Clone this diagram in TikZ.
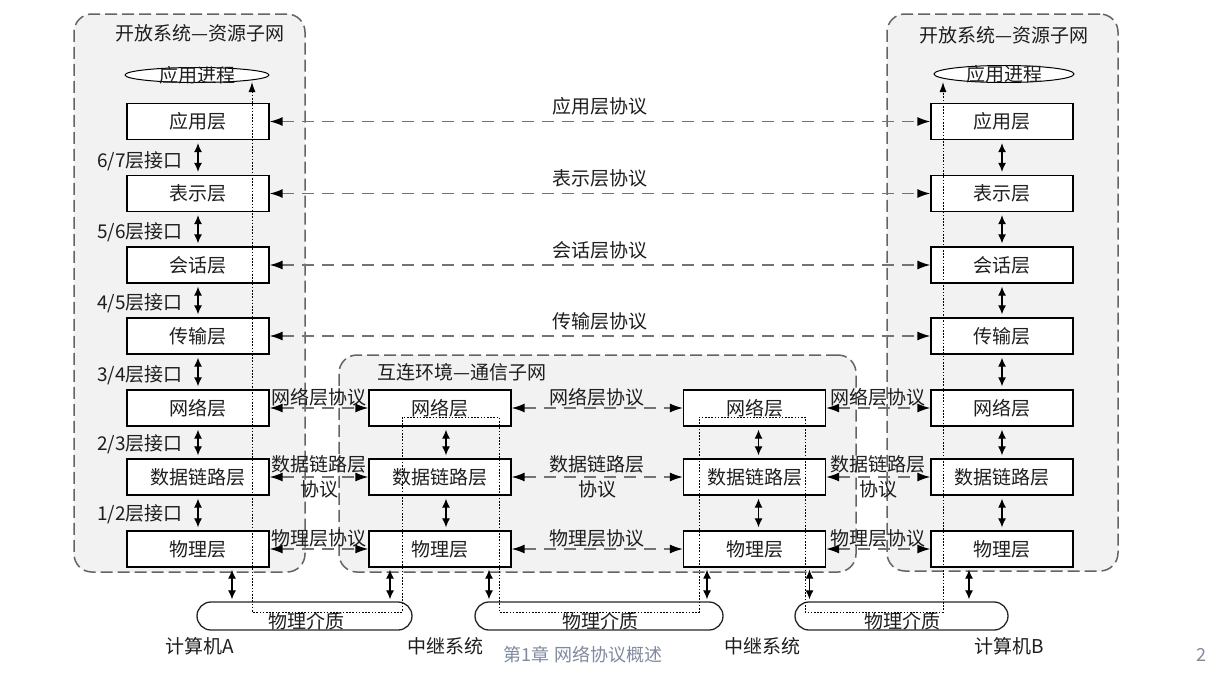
\documentclass[tikz,border=0pt]{standalone}
\usepackage{fontspec}
\setmainfont{Noto Sans CJK SC}
\usetikzlibrary{arrows.meta,shapes.geometric,calc}
\definecolor{txt}{RGB}{30,30,30}
\definecolor{boxfill}{RGB}{242,242,242}
\definecolor{cborder}{RGB}{100,100,100}
\definecolor{pline}{RGB}{115,115,115}
\definecolor{footc}{RGB}{128,138,158}
\begin{document}
\begin{tikzpicture}[x=1pt,y=-1pt,
  every node/.style={font=\fontsize{19}{24}\selectfont, text=txt},
  container/.style={draw=cborder, fill=boxfill, line width=1.5pt, dash pattern=on 12pt off 5pt, rounded corners=18pt, inner sep=0pt},
  layer/.style={draw=black, fill=white, line width=1.3pt, minimum width=142pt, minimum height=36pt, inner sep=0pt},
  proc/.style={ellipse, draw=black, fill=white, line width=1pt, inner sep=0pt},
  pill/.style={draw=black!85, fill=white, line width=1.3pt, rounded corners=14pt, minimum height=28pt, inner sep=0pt},
  proto/.style={draw=pline, line width=1.4pt, dash pattern=on 12pt off 8pt, {Latex[length=13pt,width=9pt,black]}-{Latex[length=13pt,width=9pt,black]}},
  iface/.style={draw=black, line width=1.2pt, {Latex[length=9pt,width=8pt]}-{Latex[length=9pt,width=8pt]}, shorten >=3pt, shorten <=3pt},
  datapath/.style={draw=black, line width=1pt, dash pattern=on 1.6pt off 1.6pt, {Latex[length=10pt,width=7pt]}-{Latex[length=10pt,width=7pt]}},
  plabel/.style={midway, yshift=15pt},
  llabel/.style={midway, yshift=11pt, inner sep=0pt},
]
\useasboundingbox (0,0) rectangle (1208,680);
\fill[white] (0,0) rectangle (1208,680);

% containers
\node[container, minimum width=231pt, minimum height=558pt] (SA) at (189.5,293) {};
\node[container, minimum width=231pt, minimum height=557pt] (SB) at (1002.5,292.5) {};
\node[container, minimum width=517pt, minimum height=217pt] (SC) at (597.5,463.5) {};

\node (tA) at (200,33) {开放系统—资源子网};
\node (tB) at (1004,35) {开放系统—资源子网};
\node (tC) at (462,372) {互连环境—通信子网};

% application processes
\node[proc, minimum width=144pt, minimum height=15pt] (PA) at (197,75) {};
\node (PAt) at (PA) {应用进程};
\node[proc, minimum width=140pt, minimum height=17pt] (PB) at (1004,74) {};
\node (PBt) at (PB) {应用进程};

% left stack
\node[layer] (A7) at (198,121.5) {应用层};
\node[layer] (A6) at (198,193.5) {表示层};
\node[layer] (A5) at (198,265) {会话层};
\node[layer] (A4) at (198,336) {传输层};
\node[layer] (A3) at (198,408) {网络层};
\node[layer] (A2) at (198,477) {数据链路层};
\node[layer] (A1) at (198,549) {物理层};
% right stack
\node[layer] (B7) at (1002,121.5) {应用层};
\node[layer] (B6) at (1002,193.5) {表示层};
\node[layer] (B5) at (1002,265) {会话层};
\node[layer] (B4) at (1002,336) {传输层};
\node[layer] (B3) at (1002,408) {网络层};
\node[layer] (B2) at (1002,477) {数据链路层};
\node[layer] (B1) at (1002,549) {物理层};
% relay stacks
\node[layer] (C3) at (440,408) {网络层};
\node[layer] (C2) at (440,477) {数据链路层};
\node[layer] (C1) at (440,549) {物理层};
\node[layer] (D3) at (754.5,408) {网络层};
\node[layer] (D2) at (754.5,477) {数据链路层};
\node[layer] (D1) at (754.5,549) {物理层};

% physical media
\node[pill, minimum width=215pt] (M1) at (304.5,616) {};
\node[pill, minimum width=248pt] (M2) at (599,616) {};
\node[pill, minimum width=213pt] (M3) at (901.5,616) {};
\node (M1t) at (306,621) {物理介质};
\node (M2t) at (600,621) {物理介质};
\node (M3t) at (902,621) {物理介质};

% interface arrows and labels (left)
\draw[iface] (A7.south) -- (A6.north);
\draw[iface] (A6.south) -- (A5.north);
\draw[iface] (A5.south) -- (A4.north);
\draw[iface] (A4.south) -- (A3.north);
\draw[iface] (A3.south) -- (A2.north);
\draw[iface] (A2.south) -- (A1.north);
\node[anchor=east, inner sep=0pt] (i67) at (183,161) {6/7层接口};
\node[anchor=east, inner sep=0pt] (i56) at (183,232) {5/6层接口};
\node[anchor=east, inner sep=0pt] (i45) at (183,303) {4/5层接口};
\node[anchor=east, inner sep=0pt] (i34) at (183,375) {3/4层接口};
\node[anchor=east, inner sep=0pt] (i23) at (183,444) {2/3层接口};
\node[anchor=east, inner sep=0pt] (i12) at (183,514) {1/2层接口};
% right
\draw[iface] (B7.south) -- (B6.north);
\draw[iface] (B6.south) -- (B5.north);
\draw[iface] (B5.south) -- (B4.north);
\draw[iface] (B4.south) -- (B3.north);
\draw[iface] (B3.south) -- (B2.north);
\draw[iface] (B2.south) -- (B1.north);
% relays
\draw[iface] ([xshift=6pt]C3.south) -- ([xshift=6pt]C2.north);
\draw[iface] ([xshift=6pt]C2.south) -- ([xshift=6pt]C1.north);
\draw[iface] ([xshift=4pt]D3.south) -- ([xshift=4pt]D2.north);
\draw[iface] ([xshift=4pt]D2.south) -- ([xshift=4pt]D1.north);

% physical to medium
\draw[iface, shorten <=2pt, shorten >=2pt] ([xshift=34pt]A1.south) -- ([xshift=34pt]A1.south |- M1.north);
\draw[iface, shorten <=2pt, shorten >=2pt] ([xshift=-50pt]C1.south) -- ([xshift=-50pt]C1.south |- M1.north);
\draw[iface, shorten <=2pt, shorten >=2pt] ([xshift=49pt]C1.south) -- ([xshift=49pt]C1.south |- M2.north);
\draw[iface, shorten <=2pt, shorten >=2pt] ([xshift=-47.5pt]D1.south) -- ([xshift=-47.5pt]D1.south |- M2.north);
\draw[iface, shorten <=2pt, shorten >=2pt] ([xshift=55pt]D1.south) -- ([xshift=55pt]D1.south |- M3.north);
\draw[iface, shorten <=2pt, shorten >=2pt] ([xshift=-33pt]B1.south) -- ([xshift=-33pt]B1.south |- M3.north);

% peer protocols (upper)
\draw[proto] (A7.east) -- (B7.west) node[plabel] (p7) {应用层协议};
\draw[proto] (A6.east) -- (B6.west) node[plabel] (p6) {表示层协议};
\draw[proto] (A5.east) -- (B5.west) node[plabel] (p5) {会话层协议};
\draw[proto] (A4.east) -- (B4.west) node[plabel] (p4) {传输层协议};
% lower protocols
\draw[proto] (A3.east) -- (C3.west) node[llabel] (q3a) {网络层协议};
\draw[proto] (C3.east) -- (D3.west) node[llabel] (q3b) {网络层协议};
\draw[proto] (D3.east) -- (B3.west) node[llabel] (q3c) {网络层协议};
\draw[proto] (A2.east) -- (C2.west) node[midway, align=center, inner sep=0pt, font=\fontsize{19}{25}\selectfont] (q2a) {数据链路层\\协议};
\draw[proto] (C2.east) -- (D2.west) node[midway, align=center, inner sep=0pt, font=\fontsize{19}{25}\selectfont] (q2b) {数据链路层\\协议};
\draw[proto] (D2.east) -- (B2.west) node[midway, align=center, inner sep=0pt, font=\fontsize{19}{25}\selectfont] (q2c) {数据链路层\\协议};
\draw[proto] (A1.east) -- (C1.west) node[llabel] (q1a) {物理层协议};
\draw[proto] (C1.east) -- (D1.west) node[llabel] (q1b) {物理层协议};
\draw[proto] (D1.east) -- (B1.west) node[llabel] (q1c) {物理层协议};

% data path (dotted)
\coordinate (d0) at (252,82);
\coordinate (d1) at (252,612);
\coordinate (d2) at (402,612);
\coordinate (d3) at (402,417);
\coordinate (d4) at (499,417);
\coordinate (d5) at (499,612);
\coordinate (d6) at (699,612);
\coordinate (d7) at (699,417);
\coordinate (d8) at (805,417);
\coordinate (d9) at (805,612);
\coordinate (d10) at (943,612);
\coordinate (d11) at (943,82);
\draw[datapath] (d0) -- (d1) -- (d2) -- (d3) -- (d4) -- (d5) -- (d6) -- (d7) -- (d8) -- (d9) -- (d10) -- (d11);

% station labels
\node (sA) at (200,646) {计算机A};
\node (sR1) at (445,646) {中继系统};
\node (sR2) at (762,646) {中继系统};
\node (sB) at (1009,646) {计算机B};

% footer
\node[text=footc, font=\fontsize{18}{22}\selectfont] (foot) at (583,655) {第1章 网络协议概述};
\node[text=footc, font=\fontsize{18}{22}\selectfont, anchor=west, inner sep=0pt] (pg) at (1196,655) {2};
\end{tikzpicture}
\end{document}
